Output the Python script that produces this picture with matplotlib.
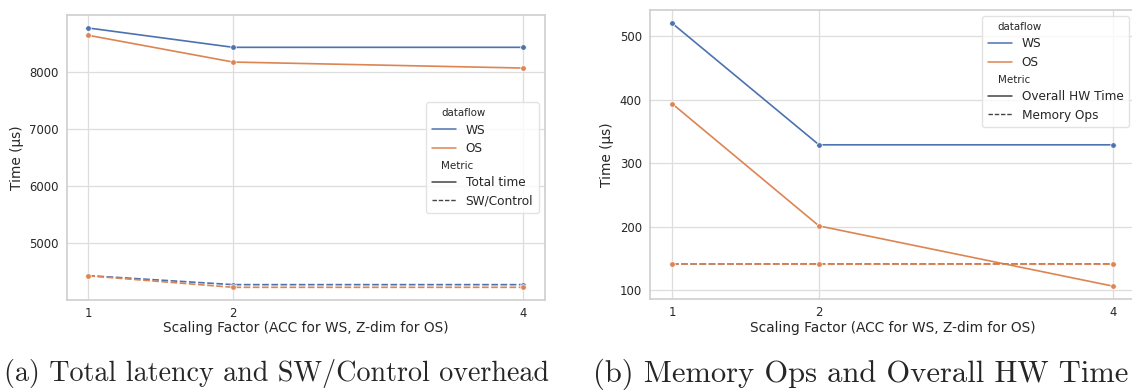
import matplotlib
matplotlib.use("Agg")
import matplotlib.pyplot as plt
import matplotlib as mpl
from matplotlib.lines import Line2D
import seaborn as sns

# Scaling factor (ACC for WS, Z-dim for OS)
scales = [1, 2, 4]

# (a) total latency and SW/control overhead, in us
ws_total = [8772, 8433, 8433]
os_total = [8644, 8175, 8070]
ws_swctrl = [4433, 4275, 4275]
os_swctrl = [4430, 4228, 4228]

# (b) overall HW time and memory ops, in us
ws_hw = [521, 329, 329]
os_hw = [394, 201, 106]
ws_mem = [141, 141, 141]
os_mem = [141, 140.6, 140.6]

sns.set_theme(style="whitegrid", palette="deep")
plt.rcParams["font.family"] = ["DejaVu Sans"]

BLUE, ORANGE = sns.color_palette("deep")[:2]
DASH = (4, 1.5)


def draw_panel(ax, series, labels, xlab_y, ylab_x):
    for y, color, dashed in series:
        line, = ax.plot(scales, y, color=color, lw=1.2, marker="o", ms=4,
                        mec="white", mew=0.5)
        if dashed:
            line.set_dashes(DASH)
    ax.set_xticks(scales)
    ax.set_xlabel("Scaling Factor (ACC for WS, Z-dim for OS)", fontsize=9.9)
    ax.set_ylabel("Time (µs)", fontsize=9.9)
    ax.xaxis.set_label_coords(0.5, xlab_y)
    ax.yaxis.set_label_coords(ylab_x, 0.5)
    ax.tick_params(labelsize=8.4, length=0)
    ax.tick_params(axis="x", pad=4.8)
    ax.tick_params(axis="y", pad=5.8)
    for s in ax.spines.values():
        s.set_color("#d0d0d0")
    ax.grid(color="#dddddd", lw=0.9)

    handles = [
        Line2D([], [], visible=False),
        Line2D([], [], color=BLUE, lw=1.1),
        Line2D([], [], color=ORANGE, lw=1.1),
        Line2D([], [], visible=False),
        Line2D([], [], color="#444444", lw=1.1),
        Line2D([], [], color="#444444", lw=1.0, dashes=(3.2, 1.3)),
    ]
    names = ["dataflow", "WS", "OS", "Metric", labels[0], labels[1]]
    return handles, names


def add_legend(ax, handles, names, loc):
    leg = ax.legend(handles, names, loc=loc, fontsize=8.7, frameon=True,
                    labelspacing=0.45, handlelength=2.0, borderpad=0.45)
    leg.get_frame().set_edgecolor("#dddddd")
    # subtitle rows: no handle space, smaller text
    hpackers = leg.findobj(mpl.offsetbox.VPacker)[0].get_children()
    for hpack in hpackers:
        draw_area, text_area = hpack.get_children()
        if not all(a.get_visible() for a in draw_area.get_children()):
            draw_area.set_width(0)
            for t in text_area.get_children():
                t.set_size(7.4)
    return leg


fig = plt.figure(figsize=(11.32, 3.90), dpi=100)

ax1 = fig.add_axes([0.0588, 0.230, 0.4223, 0.7315])
h, n = draw_panel(ax1, [(ws_total, BLUE, False), (os_total, ORANGE, False),
                        (ws_swctrl, BLUE, True), (os_swctrl, ORANGE, True)],
                  ["Total time", "SW/Control"], -0.072, -0.090)
ax1.set_yticks([5000, 6000, 7000, 8000])
add_legend(ax1, h, n, "center right")

ax2 = fig.add_axes([0.5742, 0.2326, 0.4284, 0.7418])
h, n = draw_panel(ax2, [(ws_hw, BLUE, False), (os_hw, ORANGE, False),
                        (ws_mem, BLUE, True), (os_mem, ORANGE, True)],
                  ["Overall HW Time", "Memory Ops"], -0.0746, -0.074)
ax2.set_yticks([100, 200, 300, 400, 500])
add_legend(ax2, h, n, "upper right")

cap = dict(family="cmr10", ha="center", va="center")
fig.text(277 / 1132, 1 - 374 / 390, "(a) Total latency and SW/Control overhead",
         fontsize=20.2, **cap)
fig.text(861 / 1132, 1 - 374 / 390, "(b) Memory Ops and Overall HW Time",
         fontsize=22, **cap)

fig.savefig("out.png", dpi=100)
